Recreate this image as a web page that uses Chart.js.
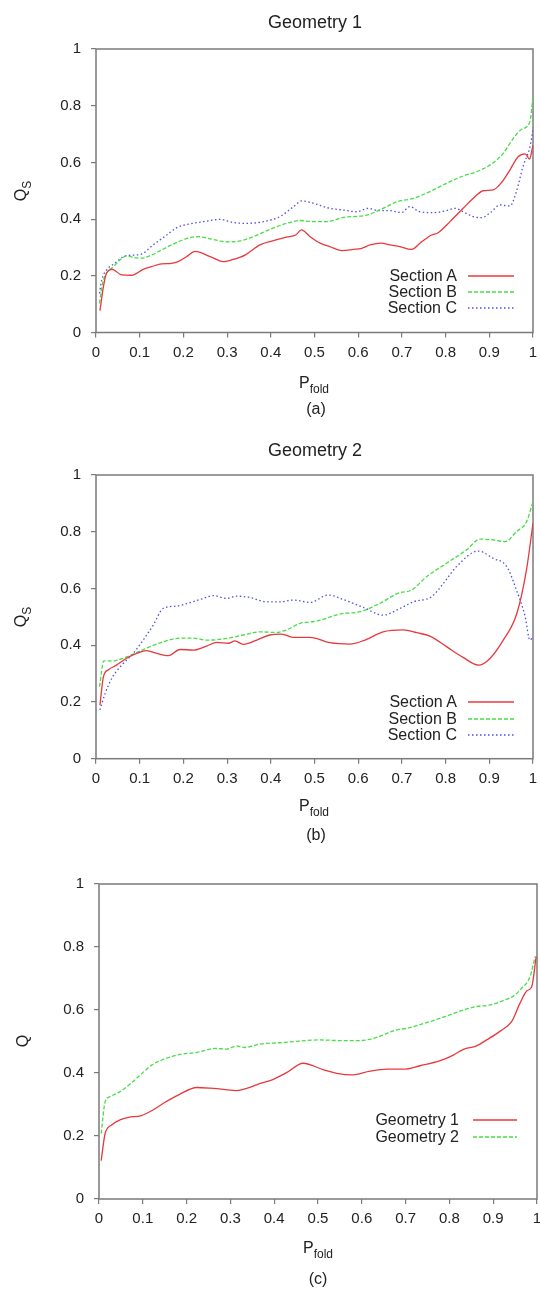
<!DOCTYPE html>
<html>
<head>
<meta charset="utf-8">
<script src="https://cdn.jsdelivr.net/npm/chart.js@4.4.1/dist/chart.umd.min.js"></script>
<style>
  body { margin: 0; background: #fff; }
  #page { position: relative; width: 540px; height: 1290px; overflow: hidden;
          font-family: "Liberation Sans", Arial, sans-serif; color: #222; }
  canvas { position: absolute; left: 0; }
  .txt { position: absolute; transform: translate(-50%, -50%); white-space: nowrap; font-size: 16px; line-height: 18px; }
  .title { font-size: 18px; }
  .rot { transform: translate(-50%, -50%) rotate(-90deg); }
  .sub { font-size: 12px; position: relative; top: 5px; }
  .leg { position: absolute; font-size: 16px; line-height: 16px; text-align: right; white-space: nowrap; }
  svg { position: absolute; overflow: visible; }
</style>
</head>
<body>
<div id="page">
  <canvas id="chartA" width="540" height="400" style="top:0px"></canvas>
  <canvas id="chartB" width="540" height="400" style="top:420px"></canvas>
  <canvas id="chartC" width="540" height="400" style="top:850px"></canvas>

  <div class="txt title" style="left:315px;top:22px">Geometry 1</div>
  <div class="txt rot" style="left:21px;top:191px">Q<span class="sub">S</span></div>
  <div class="txt" style="left:314px;top:383px">P<span class="sub">fold</span></div>
  <div class="txt" style="left:316px;top:409px">(a)</div>

  <div class="txt title" style="left:315px;top:450px">Geometry 2</div>
  <div class="txt rot" style="left:21px;top:617px">Q<span class="sub">S</span></div>
  <div class="txt" style="left:314px;top:806px">P<span class="sub">fold</span></div>
  <div class="txt" style="left:316px;top:835px">(b)</div>

  <div class="txt rot" style="left:23px;top:1041px">Q</div>
  <div class="txt" style="left:318px;top:1248px">P<span class="sub">fold</span></div>
  <div class="txt" style="left:318px;top:1279px">(c)</div>
</div>

<script>
'use strict'

// Tick labels
var xTickLabels = ['0', '0.1', '0.2', '0.3', '0.4', '0.5', '0.6', '0.7', '0.8', '0.9', '1'];
var yTickLabels = ['0', '0.2', '0.4', '0.6', '0.8', '1'];

// (a) Geometry 1, Q_S per section
var g1AX = [0.009,0.017,0.024,0.037,0.059,0.082,0.108,0.127,0.150,0.173,0.188,0.207,0.227,0.261,0.291,0.310,0.341,0.375,0.406,0.436,0.458,0.470,0.490,0.513,0.535,0.562,0.589,0.608,0.627,0.653,0.672,0.695,0.722,0.745,0.768,0.783,0.810,0.840,0.867,0.886,0.909,0.928,0.947,0.966,0.982,0.992,1.0];
var g1AY = [0.077,0.162,0.209,0.223,0.203,0.202,0.223,0.232,0.242,0.244,0.250,0.267,0.286,0.268,0.250,0.256,0.273,0.309,0.324,0.336,0.345,0.362,0.338,0.315,0.303,0.289,0.293,0.297,0.309,0.315,0.309,0.303,0.293,0.320,0.344,0.352,0.391,0.438,0.479,0.500,0.503,0.529,0.573,0.620,0.630,0.612,0.661];
var g1BX = [0.008,0.015,0.024,0.040,0.055,0.070,0.085,0.105,0.127,0.150,0.177,0.207,0.234,0.265,0.299,0.330,0.360,0.398,0.436,0.467,0.497,0.528,0.566,0.619,0.657,0.688,0.726,0.764,0.802,0.840,0.871,0.905,0.932,0.955,0.974,0.993,1.0];
var g1BY = [0.103,0.173,0.209,0.232,0.256,0.270,0.265,0.262,0.273,0.291,0.312,0.331,0.338,0.329,0.320,0.323,0.338,0.364,0.385,0.395,0.391,0.391,0.406,0.414,0.438,0.461,0.473,0.497,0.526,0.552,0.567,0.594,0.632,0.685,0.717,0.744,0.832];
var g1CX = [0.008,0.013,0.024,0.043,0.066,0.085,0.105,0.131,0.162,0.185,0.215,0.246,0.284,0.314,0.345,0.383,0.421,0.452,0.470,0.497,0.535,0.566,0.596,0.623,0.646,0.672,0.699,0.718,0.741,0.772,0.802,0.822,0.840,0.863,0.882,0.905,0.924,0.947,0.962,0.977,0.993,1.0];
var g1CY = [0.138,0.185,0.220,0.244,0.270,0.273,0.277,0.309,0.344,0.370,0.383,0.391,0.399,0.388,0.385,0.391,0.409,0.444,0.464,0.456,0.438,0.432,0.426,0.438,0.430,0.430,0.423,0.444,0.426,0.423,0.430,0.438,0.426,0.409,0.405,0.426,0.450,0.446,0.497,0.585,0.655,0.714];

// (b) Geometry 2, Q_S per section
var g2AX = [0.009,0.017,0.028,0.047,0.070,0.093,0.116,0.139,0.166,0.192,0.223,0.253,0.276,0.303,0.318,0.337,0.368,0.398,0.425,0.451,0.490,0.535,0.581,0.612,0.657,0.703,0.734,0.764,0.802,0.840,0.875,0.898,0.932,0.963,0.985,1.0];
var g2AY = [0.189,0.289,0.313,0.330,0.354,0.371,0.381,0.371,0.363,0.385,0.383,0.397,0.410,0.407,0.415,0.403,0.418,0.436,0.439,0.428,0.428,0.409,0.404,0.416,0.447,0.454,0.444,0.432,0.395,0.357,0.330,0.348,0.418,0.512,0.665,0.830];
var g2BX = [0.008,0.018,0.040,0.062,0.093,0.124,0.162,0.192,0.223,0.253,0.291,0.337,0.375,0.413,0.436,0.467,0.505,0.558,0.604,0.650,0.696,0.719,0.757,0.802,0.848,0.879,0.909,0.936,0.962,0.985,1.0];
var g2BY = [0.254,0.345,0.345,0.354,0.374,0.395,0.416,0.425,0.425,0.418,0.422,0.436,0.447,0.445,0.454,0.477,0.485,0.510,0.518,0.548,0.586,0.592,0.642,0.689,0.736,0.774,0.771,0.765,0.800,0.835,0.906];
var g2CX = [0.009,0.021,0.036,0.059,0.085,0.108,0.131,0.154,0.185,0.215,0.246,0.268,0.299,0.322,0.352,0.391,0.421,0.452,0.490,0.532,0.566,0.612,0.657,0.696,0.726,0.768,0.795,0.825,0.875,0.909,0.940,0.962,0.982,0.993,1.0];
var g2CY = [0.172,0.230,0.283,0.330,0.371,0.418,0.471,0.530,0.538,0.550,0.565,0.575,0.565,0.573,0.568,0.553,0.553,0.559,0.551,0.577,0.561,0.533,0.506,0.530,0.553,0.571,0.618,0.677,0.732,0.706,0.677,0.595,0.501,0.418,0.430];

// (c) overall Q per geometry
var q1X = [0.005,0.014,0.029,0.048,0.067,0.097,0.120,0.147,0.185,0.223,0.253,0.284,0.314,0.337,0.368,0.398,0.428,0.466,0.513,0.543,0.577,0.619,0.657,0.695,0.733,0.779,0.809,0.832,0.862,0.885,0.916,0.942,0.961,0.977,0.988,0.998];
var q1Y = [0.122,0.208,0.235,0.251,0.259,0.265,0.280,0.304,0.333,0.354,0.352,0.348,0.344,0.351,0.367,0.380,0.401,0.431,0.410,0.399,0.394,0.406,0.412,0.412,0.423,0.439,0.457,0.475,0.486,0.505,0.533,0.563,0.621,0.661,0.674,0.769];
var q2X = [0.005,0.014,0.025,0.048,0.071,0.097,0.120,0.147,0.185,0.223,0.265,0.291,0.314,0.333,0.368,0.413,0.474,0.505,0.550,0.596,0.634,0.672,0.703,0.748,0.794,0.832,0.862,0.893,0.923,0.946,0.965,0.984,0.996];
var q2Y = [0.208,0.309,0.325,0.341,0.365,0.397,0.425,0.443,0.459,0.465,0.478,0.476,0.486,0.481,0.492,0.496,0.503,0.505,0.503,0.503,0.513,0.534,0.542,0.560,0.581,0.600,0.611,0.616,0.630,0.644,0.669,0.706,0.771];

// Line styles (gnuplot-like)
var RED = 'rgb(232,56,60)';
var GREEN = 'rgb(70,222,70)';
var BLUE = 'rgb(80,80,222)';
var SOLID = [];
var DASHED = [4, 2];
var DOTTED = [1.5, 2.5];

// zip x and y arrays into points
function pts(xs, ys) {
  return xs.map(function(x, i) { return { x: x, y: ys[i] }; });
}

function series(label, xs, ys, color, dash) {
  return {
    label: label,
    data: pts(xs, ys),
    borderColor: color,
    borderWidth: 1.3,
    borderDash: dash,
    pointRadius: 0,
    fill: false,
    cubicInterpolationMode: 'monotone'
  };
}

// Box around the plot area
var frame = {
  id: 'frame',
  beforeDatasetsDraw: function(chart) {
    var a = chart.chartArea, ctx = chart.ctx;
    ctx.save();
    ctx.strokeStyle = '#7a7a7a';
    ctx.lineWidth = 1.5;
    ctx.strokeRect(a.left, a.top, a.right - a.left, a.bottom - a.top);
    ctx.restore();
  }
};

// Legend in the lower right: text, then a line sample
function drawLegend(sets, canvasTop, rows, textRight, lineLeft, lineRight) {
  var page = document.getElementById('page');
  sets.forEach(function(ds, i) {
    var y = canvasTop + rows[i];
    var t = document.createElement('div');
    t.className = 'leg';
    t.style.right = (540 - textRight) + 'px';
    t.style.top = (y - 8) + 'px';
    t.textContent = ds.label;
    page.appendChild(t);

    var ns = 'http://www.w3.org/2000/svg';
    var svg = document.createElementNS(ns, 'svg');
    svg.setAttribute('width', lineRight - lineLeft);
    svg.setAttribute('height', 4);
    svg.style.left = lineLeft + 'px';
    svg.style.top = (y - 2) + 'px';
    var ln = document.createElementNS(ns, 'line');
    ln.setAttribute('x1', 0); ln.setAttribute('y1', 2);
    ln.setAttribute('x2', lineRight - lineLeft); ln.setAttribute('y2', 2);
    ln.setAttribute('stroke', ds.borderColor);
    ln.setAttribute('stroke-width', 1.3);
    if (ds.borderDash.length) ln.setAttribute('stroke-dasharray', ds.borderDash.join(' '));
    svg.appendChild(ln);
    page.appendChild(svg);
  });
}

// One panel; box gives plot area inside its canvas
function makePanel(id, sets, box) {
  var h = 400;
  return new Chart(document.getElementById(id), {
    type: 'line',
    data: { datasets: sets },
    plugins: [frame],
    options: {
      responsive: false,
      animation: false,
      devicePixelRatio: 1,
      layout: { padding: { left: 0, top: box.top, right: 540 - box.right, bottom: 0 } },
      plugins: { legend: { display: false }, tooltip: { enabled: false } },
      scales: {
        x: {
          type: 'linear', min: 0, max: 1,
          border: { display: false },
          grid: { drawOnChartArea: false, color: '#7a7a7a', tickLength: 5, lineWidth: 1.2 },
          ticks: {
            stepSize: 0.1, autoSkip: false, maxRotation: 0, padding: 6,
            color: '#222', font: { family: 'Liberation Sans', size: 15 },
            callback: function(v) { return xTickLabels[Math.round(v * 10)]; }
          },
          afterFit: function(s) { s.height = h - box.bottom; s.paddingLeft = 0; s.paddingRight = 0; }
        },
        y: {
          min: 0, max: 1,
          border: { display: false },
          grid: { drawOnChartArea: false, color: '#7a7a7a', tickLength: 5, lineWidth: 1.2 },
          ticks: {
            stepSize: 0.2, padding: 10,
            color: '#222', font: { family: 'Liberation Sans', size: 15 },
            callback: function(v) { return yTickLabels[Math.round(v * 5)]; }
          },
          afterFit: function(s) { s.width = box.left; s.paddingTop = 0; s.paddingBottom = 0; }
        }
      }
    }
  });
}

var setsA = [
  series('Section A', g1AX, g1AY, RED, SOLID),
  series('Section B', g1BX, g1BY, GREEN, DASHED),
  series('Section C', g1CX, g1CY, BLUE, DOTTED)
];
var setsB = [
  series('Section A', g2AX, g2AY, RED, SOLID),
  series('Section B', g2BX, g2BY, GREEN, DASHED),
  series('Section C', g2CX, g2CY, BLUE, DOTTED)
];
var setsC = [
  series('Geometry 1', q1X, q1Y, RED, SOLID),
  series('Geometry 2', q2X, q2Y, GREEN, DASHED)
];

makePanel('chartA', setsA, { left: 96, right: 533, top: 49, bottom: 332.5 });
makePanel('chartB', setsB, { left: 96, right: 533, top: 55, bottom: 338.7 });
makePanel('chartC', setsC, { left: 99, right: 537, top: 34, bottom: 349 });

drawLegend(setsA, 0, [276, 292.3, 308.3], 457, 468, 514);
drawLegend(setsB, 420, [282.3, 298.7, 315], 457, 468, 514);
drawLegend(setsC, 850, [270, 287.3], 459, 473, 517);
</script>
</body>
